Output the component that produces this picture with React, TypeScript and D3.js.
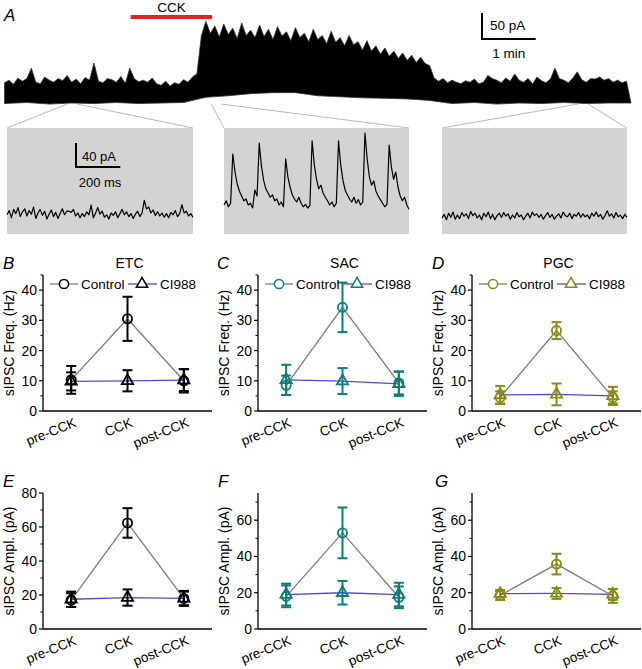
import React from 'react';
import * as d3 from 'd3';

const FONT = '"Liberation Sans", Arial, Helvetica, sans-serif';

// ---- A: whole-cell trace ----
// upper envelope of the current (pA), one value every 5 s
const traceTop = [
  37, 42, 34, 46, 40, 45, 65, 38, 35, 48, 42, 38, 45, 41, 51, 38, 44, 35, 47, 42,
  75, 40, 37, 45, 43, 38, 49, 36, 65, 45, 39, 42, 38, 46, 35, 32, 40, 31, 37, 34,
  43, 38, 48, 54,
  128, 155, 132, 146, 125, 150, 130, 142, 122, 152, 128, 138, 124, 148, 126, 140,
  120, 145, 127, 135, 118, 143, 124, 132, 116, 140, 120, 128, 112, 136, 115, 124,
  108, 128, 110, 116, 100, 118, 98, 108, 92, 104, 88, 98, 84, 94, 80, 90,
  76, 86, 74, 70,
  46, 40, 45, 37, 42, 38, 35, 41, 38, 44, 35, 38, 51, 45, 42, 37, 46, 40, 54, 42,
  38, 45, 35, 48, 41, 37, 44, 65, 45, 42, 37, 46, 58, 43, 38, 45, 44, 48, 42, 45,
  38, 42, 37, 40,
];
// lower envelope (pA), one value every 25 s
const traceBottom = [
  -3, -1, -4, -2, -3, -1, -3, -2, -1, 9, 12, 16, 18, 18, 12, 10, 8, 7, 6, 3,
  -3, -1, -4, -2, -3, -1, -3, -2, -2,
];
const cckWindow = [141, 232]; // s
const insetWindows = [[70, 81], [231, 242], [641, 652]]; // s

// expanded sweeps, one value every 10 ms (pA)
const insetPre = [
  2, 9, -3, 11, 4, 14, -1, 7, 12, 0, 9, 3, 15, -4, 5, 11, 1, 8, -5, 3,
  10, -1, 6, -4, 4, 12, 2, 8, 8, 6, 11, 0, 5, -3, 4, -1, 7, 2, 18, -3,
  5, 14, 3, 8, -2, 2, -5, 5, 1, 7, -3, 4, 11, 2, 7, -1, 4, -4, 3, 8,
  -1, 5, 26, 12, 15, 5, 10, 1, 7, 0, 5, -2, 4, -3, 6, 2, 9, -1, 4, 19,
  5, 8, 0, 4, -2,
];
const insetCck = [
  15, 22, 12, 18, 100, 70, 50, 38, 30, 22, 25, 15, 18, 10, 40, 30, 118, 80, 56, 42,
  35, 28, 32, 22, 25, 15, 20, 12, 92, 62, 45, 32, 25, 20, 28, 18, 12, 16, 10, 14,
  122, 82, 58, 42, 48, 35, 28, 22, 15, 20, 12, 18, 122, 82, 56, 40, 32, 25, 20, 28,
  18, 24, 15, 20, 135, 92, 62, 48, 55, 38, 30, 24, 18, 12, 16, 115, 78, 58, 70, 45,
  30, 22, 28, 15, 8,
];
const insetPost = [
  0, 6, -3, 8, 1, 10, -2, 5, -1, 9, 3, 7, -1, 11, 4, 8, 0, 5, -3, 8,
  2, 10, -1, 6, -3, 4, 8, 1, 9, 3, 7, -2, 5, 0, 9, 2, 5, -3, 3, 8,
  0, 10, 4, 7, 1, 6, -2, 4, 9, 1, 6, -2, 3, 7, 0, 10, 4, 2, 8, -1,
  6, 3, 9, 1, 7, 2, 5, -1, 8, 3, 10, 2, 6, -2, 4, 12, 3, 7, 0, 9,
  2, 5, -1, 6, 1,
];

// ---- B-G: mean and SEM per condition ----
const conditions = ['pre-CCK', 'CCK', 'post-CCK'];

const etcFreqCtrl = [10.3, 30.5, 10.0];
const etcFreqCtrlSem = [4.6, 7.3, 3.9];
const etcFreqCi = [9.8, 10.0, 10.2];
const etcFreqCiSem = [3.0, 3.5, 3.6];

const sacFreqCtrl = [8.5, 34.3, 9.3];
const sacFreqCtrlSem = [3.2, 8.2, 3.8];
const sacFreqCi = [10.3, 9.9, 9.0];
const sacFreqCiSem = [5.0, 4.3, 4.0];

const pgcFreqCtrl = [4.5, 26.6, 4.5];
const pgcFreqCtrlSem = [2.0, 2.8, 2.0];
const pgcFreqCi = [5.3, 5.5, 5.0];
const pgcFreqCiSem = [3.0, 3.6, 3.0];

const etcAmpCtrl = [17.0, 62.4, 18.0];
const etcAmpCtrlSem = [4.0, 8.7, 4.4];
const etcAmpCi = [17.5, 18.5, 18.0];
const etcAmpCiSem = [4.5, 4.8, 4.0];

const sacAmpCtrl = [18.0, 53.0, 17.5];
const sacAmpCtrlSem = [6.0, 14.0, 6.0];
const sacAmpCi = [19.0, 20.0, 19.0];
const sacAmpCiSem = [6.0, 6.5, 6.5];

const pgcAmpCtrl = [18.5, 35.8, 18.2];
const pgcAmpCtrlSem = [2.5, 5.7, 3.8];
const pgcAmpCi = [19.5, 19.6, 19.1];
const pgcAmpCiSem = [2.0, 3.0, 3.0];

const BLACK = '#000000';
const TEAL = '#0e7c78';
const OLIVE = '#8a8a12';
const CTRL_LINE = '#7c7c7c';
const CI_LINE = '#4b4bdc';

const panels = [
  { letter: 'B', title: 'ETC', color: BLACK, ctrl: etcFreqCtrl, ctrlSem: etcFreqCtrlSem, ci: etcFreqCi, ciSem: etcFreqCiSem, yMax: 45, major: 10, yLabel: 'sIPSC Freq. (Hz)', left: 43, top: 275, bottom: 411, lx: 3, ly: 269 },
  { letter: 'C', title: 'SAC', color: TEAL, ctrl: sacFreqCtrl, ctrlSem: sacFreqCtrlSem, ci: sacFreqCi, ciSem: sacFreqCiSem, yMax: 45, major: 10, yLabel: 'sIPSC Freq. (Hz)', left: 258, top: 275, bottom: 411, lx: 217, ly: 269 },
  { letter: 'D', title: 'PGC', color: OLIVE, ctrl: pgcFreqCtrl, ctrlSem: pgcFreqCtrlSem, ci: pgcFreqCi, ciSem: pgcFreqCiSem, yMax: 45, major: 10, yLabel: 'sIPSC Freq. (Hz)', left: 472, top: 275, bottom: 411, lx: 432, ly: 269 },
  { letter: 'E', title: '', color: BLACK, ctrl: etcAmpCtrl, ctrlSem: etcAmpCtrlSem, ci: etcAmpCi, ciSem: etcAmpCiSem, yMax: 80, major: 20, yLabel: 'sIPSC Ampl. (pA)', left: 43, top: 493, bottom: 629, lx: 3, ly: 487 },
  { letter: 'F', title: '', color: TEAL, ctrl: sacAmpCtrl, ctrlSem: sacAmpCtrlSem, ci: sacAmpCi, ciSem: sacAmpCiSem, yMax: 75, major: 20, yLabel: 'sIPSC Ampl. (pA)', left: 258, top: 493, bottom: 629, lx: 218, ly: 487 },
  { letter: 'G', title: '', color: OLIVE, ctrl: pgcAmpCtrl, ctrlSem: pgcAmpCtrlSem, ci: pgcAmpCi, ciSem: pgcAmpCiSem, yMax: 75, major: 20, yLabel: 'sIPSC Ampl. (pA)', left: 472, top: 493, bottom: 629, lx: 435, ly: 487 },
];

const triangle = d3.symbol(d3.symbolTriangle, 55)() as string;

function Panel({ p }: { p: any }) {
  const x = d3.scaleLinear().domain([0.5, 3.5]).range([p.left, p.left + 169]);
  const y = d3.scaleLinear().domain([0, p.yMax]).range([p.bottom, p.top]);
  const majors = d3.range(0, p.yMax + 0.001, p.major);
  const minors = d3.range(p.major / 2, p.yMax + 0.001, p.major);
  const line = d3.line<number>().x((_, i) => x(i + 1)).y((d) => y(d));
  const midY = (p.top + p.bottom) / 2;

  const errorBars = (vals: number[], sems: number[]) =>
    vals.map((v, i) => (
      <g key={i} stroke={p.color} strokeWidth={2} fill="none">
        <line x1={x(i + 1)} x2={x(i + 1)} y1={y(v - sems[i])} y2={y(v + sems[i])} />
        <line x1={x(i + 1) - 5} x2={x(i + 1) + 5} y1={y(v + sems[i])} y2={y(v + sems[i])} />
        <line x1={x(i + 1) - 5} x2={x(i + 1) + 5} y1={y(v - sems[i])} y2={y(v - sems[i])} />
      </g>
    ));

  const lx0 = p.left + 7;
  const legY = 284;

  return (
    <g fontFamily={FONT}>
      <text x={p.lx} y={p.ly} fontSize={17} fontStyle="italic">{p.letter}</text>
      {p.title && (
        <text x={x(2) + 2} y={268} fontSize={14} textAnchor="middle">{p.title}</text>
      )}
      {/* axes */}
      <line x1={p.left} x2={p.left} y1={p.bottom} y2={p.top} stroke="#000" strokeWidth={1.3} />
      <line x1={p.left} x2={p.left + 169} y1={p.bottom} y2={p.bottom} stroke="#000" strokeWidth={1.3} />
      {majors.map((t) => (
        <g key={'M' + t}>
          <line x1={p.left - 4} x2={p.left} y1={y(t)} y2={y(t)} stroke="#000" strokeWidth={1.2} />
          <text x={p.left - 6} y={y(t) + 5} fontSize={14} textAnchor="end">{t}</text>
        </g>
      ))}
      {minors.map((t) => (
        <line key={'m' + t} x1={p.left - 2.5} x2={p.left} y1={y(t)} y2={y(t)} stroke="#000" strokeWidth={1} />
      ))}
      <text transform={`translate(${p.left - 29},${midY}) rotate(-90)`} fontSize={14} textAnchor="middle">
        {p.yLabel}
      </text>
      {conditions.map((c, i) => (
        <text key={c} transform={`translate(${x(i + 1) + 6},${p.bottom + 15}) rotate(-22)`} fontSize={13.5} textAnchor="end">
          {c}
        </text>
      ))}
      {/* series */}
      <path d={line(p.ctrl) as string} fill="none" stroke={CTRL_LINE} strokeWidth={1.3} />
      <path d={line(p.ci) as string} fill="none" stroke={CI_LINE} strokeWidth={1.3} />
      {errorBars(p.ctrl, p.ctrlSem)}
      {errorBars(p.ci, p.ciSem)}
      {p.ctrl.map((v: number, i: number) => (
        <circle key={'c' + i} cx={x(i + 1)} cy={y(v)} r={4.6} fill="none" stroke={p.color} strokeWidth={1.8} />
      ))}
      {p.ci.map((v: number, i: number) => (
        <path key={'t' + i} d={triangle} transform={`translate(${x(i + 1)},${y(v)})`} fill="none" stroke={p.color} strokeWidth={1.8} />
      ))}
      {/* legend (top row only) */}
      {p.title && (
        <g>
          <line x1={lx0} x2={lx0 + 28} y1={legY} y2={legY} stroke={CTRL_LINE} strokeWidth={1.3} />
          <circle cx={lx0 + 14} cy={legY} r={4.6} fill="#fff" stroke={p.color} strokeWidth={1.5} />
          <text x={lx0 + 31} y={legY + 5} fontSize={13.5}>Control</text>
          <line x1={lx0 + 78} x2={lx0 + 107} y1={legY} y2={legY} stroke={CI_LINE} strokeWidth={1.3} />
          <path d={triangle} transform={`translate(${lx0 + 92},${legY})`} fill="#fff" stroke={p.color} strokeWidth={1.5} />
          <text x={lx0 + 110} y={legY + 5} fontSize={13.5}>CI988</text>
        </g>
      )}
    </g>
  );
}

function TracePanel() {
  const tx = d3.scaleLinear().domain([0, 700]).range([4.5, 631]);
  const ty = d3.scaleLinear().domain([0, 50]).range([102, 76]);
  const topPts: [number, number][] = traceTop.map((v, i) => [tx(i * 5), ty(v)]);
  const botPts: [number, number][] = traceBottom.map((v, i) => [tx(i * 25), ty(v)]);
  const area = (d3.line()([...topPts, ...botPts.reverse()]) as string) + 'Z';

  const boxes = [
    { x0: 7, x1: 193, data: insetPre, base: 216 },
    { x0: 224, x1: 409, data: insetCck, base: 214 },
    { x0: 442, x1: 627, data: insetPost, base: 218 },
  ];
  const boxTop = 128;
  const boxBottom = 234;

  const sbX = 482;
  const sbY = 39;
  const iyScale = (base: number) => d3.scaleLinear().domain([0, 40]).range([base, base - 24]);
  const ix0 = d3.scaleLinear().domain([0, 840]).range([boxes[0].x0, boxes[0].x1]);

  return (
    <g fontFamily={FONT}>
      <text x={4} y={21} fontSize={17} fontStyle="italic">A</text>
      <text x={(tx(cckWindow[0]) + tx(cckWindow[1])) / 2} y={12} fontSize={13.5} textAnchor="middle">CCK</text>
      <rect x={tx(cckWindow[0])} y={15} width={tx(cckWindow[1]) - tx(cckWindow[0])} height={4} fill="#e32228" />
      <path d={area} fill="#000" stroke="#333" strokeWidth={0.8} strokeLinejoin="miter" />
      {/* scale bar 50 pA / 1 min */}
      <path
        d={`M${sbX},${sbY - (ty(0) - ty(50))} L${sbX},${sbY} L${sbX + tx(60) - tx(0)},${sbY}`}
        fill="none" stroke="#000" strokeWidth={2}
      />
      <text x={sbX + 8} y={sbY - 9} fontSize={13.5}>50 pA</text>
      <text x={sbX + (tx(60) - tx(0)) / 2} y={sbY + 19} fontSize={13.5} textAnchor="middle">1 min</text>
      {/* expanded sweeps */}
      {boxes.map((b, k) => {
        const ix = d3.scaleLinear().domain([0, (b.data.length - 1) * 10]).range([b.x0, b.x1]);
        const iy = iyScale(b.base);
        const path = d3.line<number>().x((_, i) => ix(i * 10)).y((d) => iy(d))(b.data) as string;
        return (
          <g key={k}>
            <line x1={tx(insetWindows[k][0])} y1={104} x2={b.x0} y2={boxTop} stroke="#b9b9b9" strokeWidth={1} />
            <line x1={tx(insetWindows[k][1])} y1={104} x2={b.x1} y2={boxTop} stroke="#b9b9b9" strokeWidth={1} />
            <rect x={b.x0} y={boxTop} width={b.x1 - b.x0} height={boxBottom - boxTop} fill="#d3d3d3" />
            <path d={path} fill="none" stroke="#000" strokeWidth={1.2} strokeLinejoin="round" />
          </g>
        );
      })}
      {/* inset scale bar 40 pA / 200 ms */}
      <path
        d={`M76,${167 - 24} L76,167 L${76 + ix0(200) - ix0(0)},167`}
        fill="none" stroke="#000" strokeWidth={2}
      />
      <text x={82} y={161} fontSize={13}>40 pA</text>
      <text x={100} y={187} fontSize={13} textAnchor="middle">200 ms</text>
    </g>
  );
}

export default function App() {
  return (
    <svg
      width={642}
      height={669}
      viewBox="0 0 642 669"
      style={{ position: 'absolute', left: 0, top: 0, background: '#fff' }}
    >
      <rect width={642} height={669} fill="#fff" />
      <TracePanel />
      {panels.map((p) => (
        <Panel key={p.letter} p={p} />
      ))}
    </svg>
  );
}
